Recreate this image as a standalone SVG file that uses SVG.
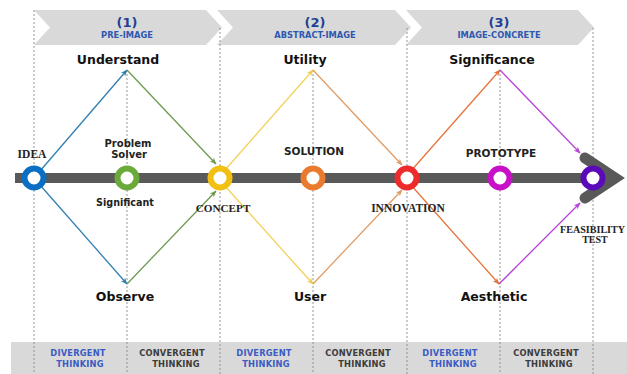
<svg xmlns="http://www.w3.org/2000/svg" width="627" height="374" viewBox="0 0 627 374">
<style>
.band{fill:#d9d9d9}
.dash{stroke:#8a8a8a;stroke-width:0.9;stroke-dasharray:2 2;fill:none}
.bn{font-family:"DejaVu Sans",Verdana,sans-serif;font-weight:bold;text-anchor:middle}
.num{font-size:13px;fill:#243f92}
.sub{font-size:8.3px;fill:#2f58b0}
.lbl{font-family:"DejaVu Sans",Verdana,sans-serif;font-weight:bold;font-size:12.5px;fill:#111;text-anchor:middle}
.sm{font-family:"DejaVu Sans",Verdana,sans-serif;font-weight:bold;font-size:10px;fill:#222;text-anchor:middle}
.sf{font-family:"Liberation Serif","Times New Roman",serif;font-weight:bold;font-size:11.5px;fill:#222;text-anchor:middle}
.bt{font-family:"DejaVu Sans",Verdana,sans-serif;font-weight:bold;font-size:8.3px;text-anchor:middle;letter-spacing:0.2px}
.dv{fill:#3a5cc4}
.cv{fill:#3c3c3c}
.ring{fill:#fff;stroke-width:6}
.c{fill:none;stroke-width:1.3}
</style>
<defs>
<marker id="mB" viewBox="0 0 10 10" refX="9" refY="5" markerWidth="7" markerHeight="7" markerUnits="userSpaceOnUse" orient="auto"><path d="M0,1 L10,5 L0,9 L3,5 z" fill="#2f7fb0"/></marker>
<marker id="mG" viewBox="0 0 10 10" refX="9" refY="5" markerWidth="7" markerHeight="7" markerUnits="userSpaceOnUse" orient="auto"><path d="M0,1 L10,5 L0,9 L3,5 z" fill="#6e9a50"/></marker>
<marker id="mY" viewBox="0 0 10 10" refX="9" refY="5" markerWidth="7" markerHeight="7" markerUnits="userSpaceOnUse" orient="auto"><path d="M0,1 L10,5 L0,9 L3,5 z" fill="#eecb4a"/></marker>
<marker id="mT" viewBox="0 0 10 10" refX="9" refY="5" markerWidth="7" markerHeight="7" markerUnits="userSpaceOnUse" orient="auto"><path d="M0,1 L10,5 L0,9 L3,5 z" fill="#df9d66"/></marker>
<marker id="mO" viewBox="0 0 10 10" refX="9" refY="5" markerWidth="7" markerHeight="7" markerUnits="userSpaceOnUse" orient="auto"><path d="M0,1 L10,5 L0,9 L3,5 z" fill="#e6743c"/></marker>
<marker id="mP" viewBox="0 0 10 10" refX="9" refY="5" markerWidth="7" markerHeight="7" markerUnits="userSpaceOnUse" orient="auto"><path d="M0,1 L10,5 L0,9 L3,5 z" fill="#b743d6"/></marker>
</defs>
<rect width="627" height="374" fill="#fff"/>

<g id="banners">
<path class="band" d="M34,10 H206 L222,27.5 L206,45 H34 L50,27.5 Z"/>
<path class="band" d="M217,10 H395 L411,27.5 L395,45 H217 L233,27.5 Z"/>
<path class="band" d="M406,10 H578 L594,27.5 L578,45 H406 L422,27.5 Z"/>
<text class="bn num" x="127" y="27">(1)</text>
<text class="bn sub" x="127" y="38">PRE-IMAGE</text>
<text class="bn num" x="315" y="27">(2)</text>
<text class="bn sub" x="315" y="38">ABSTRACT-IMAGE</text>
<text class="bn num" x="499" y="27">(3)</text>
<text class="bn sub" x="499" y="38">IMAGE-CONCRETE</text>
</g>

<rect class="band" x="11" y="342" width="616" height="32"/>

<g id="guides">
<line class="dash" x1="34" y1="10" x2="34" y2="374"/>
<line class="dash" x1="127" y1="70" x2="127" y2="374"/>
<line class="dash" x1="220" y1="28" x2="220" y2="374"/>
<line class="dash" x1="313" y1="70" x2="313" y2="374"/>
<line class="dash" x1="407" y1="28" x2="407" y2="374"/>
<line class="dash" x1="500" y1="70" x2="500" y2="374"/>
<line class="dash" x1="593" y1="28" x2="593" y2="374"/>
</g>

<g id="connectors">
<line class="c" stroke="#2f7fb0" x1="40" y1="171" x2="127" y2="70" marker-end="url(#mB)"/>
<line class="c" stroke="#2f7fb0" x1="40" y1="185" x2="127" y2="284" marker-end="url(#mB)"/>
<line class="c" stroke="#6e9a50" x1="127" y1="70" x2="216" y2="164" marker-end="url(#mG)"/>
<line class="c" stroke="#6e9a50" x1="127" y1="284" x2="216" y2="191" marker-end="url(#mG)"/>
<line class="c" stroke="#f2d25a" x1="225" y1="170" x2="313" y2="70" marker-end="url(#mY)"/>
<line class="c" stroke="#f2d25a" x1="225" y1="186" x2="313" y2="284" marker-end="url(#mY)"/>
<line class="c" stroke="#df9d66" x1="313" y1="70" x2="402" y2="165" marker-end="url(#mT)"/>
<line class="c" stroke="#df9d66" x1="313" y1="284" x2="402" y2="190" marker-end="url(#mT)"/>
<line class="c" stroke="#e6743c" x1="410" y1="172" x2="500" y2="70" marker-end="url(#mO)"/>
<line class="c" stroke="#e6743c" x1="410" y1="184" x2="499" y2="284" marker-end="url(#mO)"/>
<line class="c" stroke="#b743d6" x1="500" y1="70" x2="580" y2="153" marker-end="url(#mP)"/>
<line class="c" stroke="#b743d6" x1="499" y1="284" x2="580" y2="203" marker-end="url(#mP)"/>
</g>

<g id="axis">
<rect x="15" y="173" width="580" height="10" fill="#595959"/>
<polyline points="585,158 615,178 585,198" fill="none" stroke="#595959" stroke-width="11" stroke-linejoin="miter" stroke-linecap="round"/>
</g>

<g id="idea"><circle class="ring" cx="34" cy="178" r="9.5" stroke="#0a6fc2"/><text class="sf" x="32" y="158">IDEA</text></g>
<g id="understand"><text class="lbl" x="118" y="64">Understand</text></g>
<g id="observe"><text class="lbl" x="125" y="301">Observe</text></g>
<g id="problem-solver"><circle class="ring" cx="127" cy="178" r="9.5" stroke="#6aaa3a"/><text class="sm" x="128" y="147">Problem</text><text class="sm" x="129" y="158">Solver</text><text class="sm" x="125" y="206" style="font-size:9.6px">Significant</text></g>
<g id="concept"><circle class="ring" cx="220" cy="178" r="9.5" stroke="#f2c012"/><text class="sf" x="223" y="212" style="font-size:11.2px">CONCEPT</text></g>
<g id="utility"><text class="lbl" x="305" y="64">Utility</text></g>
<g id="user"><text class="lbl" x="310" y="301">User</text></g>
<g id="solution"><circle class="ring" cx="313" cy="178" r="9.5" stroke="#ea7a2e"/><text class="sm" x="314" y="155" style="font-size:10.5px">SOLUTION</text></g>
<g id="innovation"><circle class="ring" cx="407" cy="178" r="9.5" stroke="#ee2b2b"/><text class="sf" x="408" y="212">INNOVATION</text></g>
<g id="significance"><text class="lbl" x="492" y="64">Significance</text></g>
<g id="aesthetic"><text class="lbl" x="494" y="301">Aesthetic</text></g>
<g id="prototype"><circle class="ring" cx="500" cy="178" r="9.5" stroke="#c810c8"/><text class="sm" x="501" y="157" style="font-size:10.5px">PROTOTYPE</text></g>
<g id="feasibility"><circle class="ring" cx="593" cy="178" r="9.5" stroke="#5a0ab8"/><text class="sf" x="560" y="233" style="text-anchor:start;font-size:10.1px">FEASIBILITY</text><text class="sf" x="595" y="243" style="font-size:10px">TEST</text></g>

<g id="thinking">
<text class="bt dv" x="78" y="356">DIVERGENT</text><text class="bt dv" x="80" y="367">THINKING</text>
<text class="bt cv" x="172" y="356">CONVERGENT</text><text class="bt cv" x="176" y="367">THINKING</text>
<text class="bt dv" x="264" y="356">DIVERGENT</text><text class="bt dv" x="266" y="367">THINKING</text>
<text class="bt cv" x="358" y="356">CONVERGENT</text><text class="bt cv" x="362" y="367">THINKING</text>
<text class="bt dv" x="450" y="356">DIVERGENT</text><text class="bt dv" x="453" y="367">THINKING</text>
<text class="bt cv" x="546" y="356">CONVERGENT</text><text class="bt cv" x="549" y="367">THINKING</text>
</g>
</svg>
